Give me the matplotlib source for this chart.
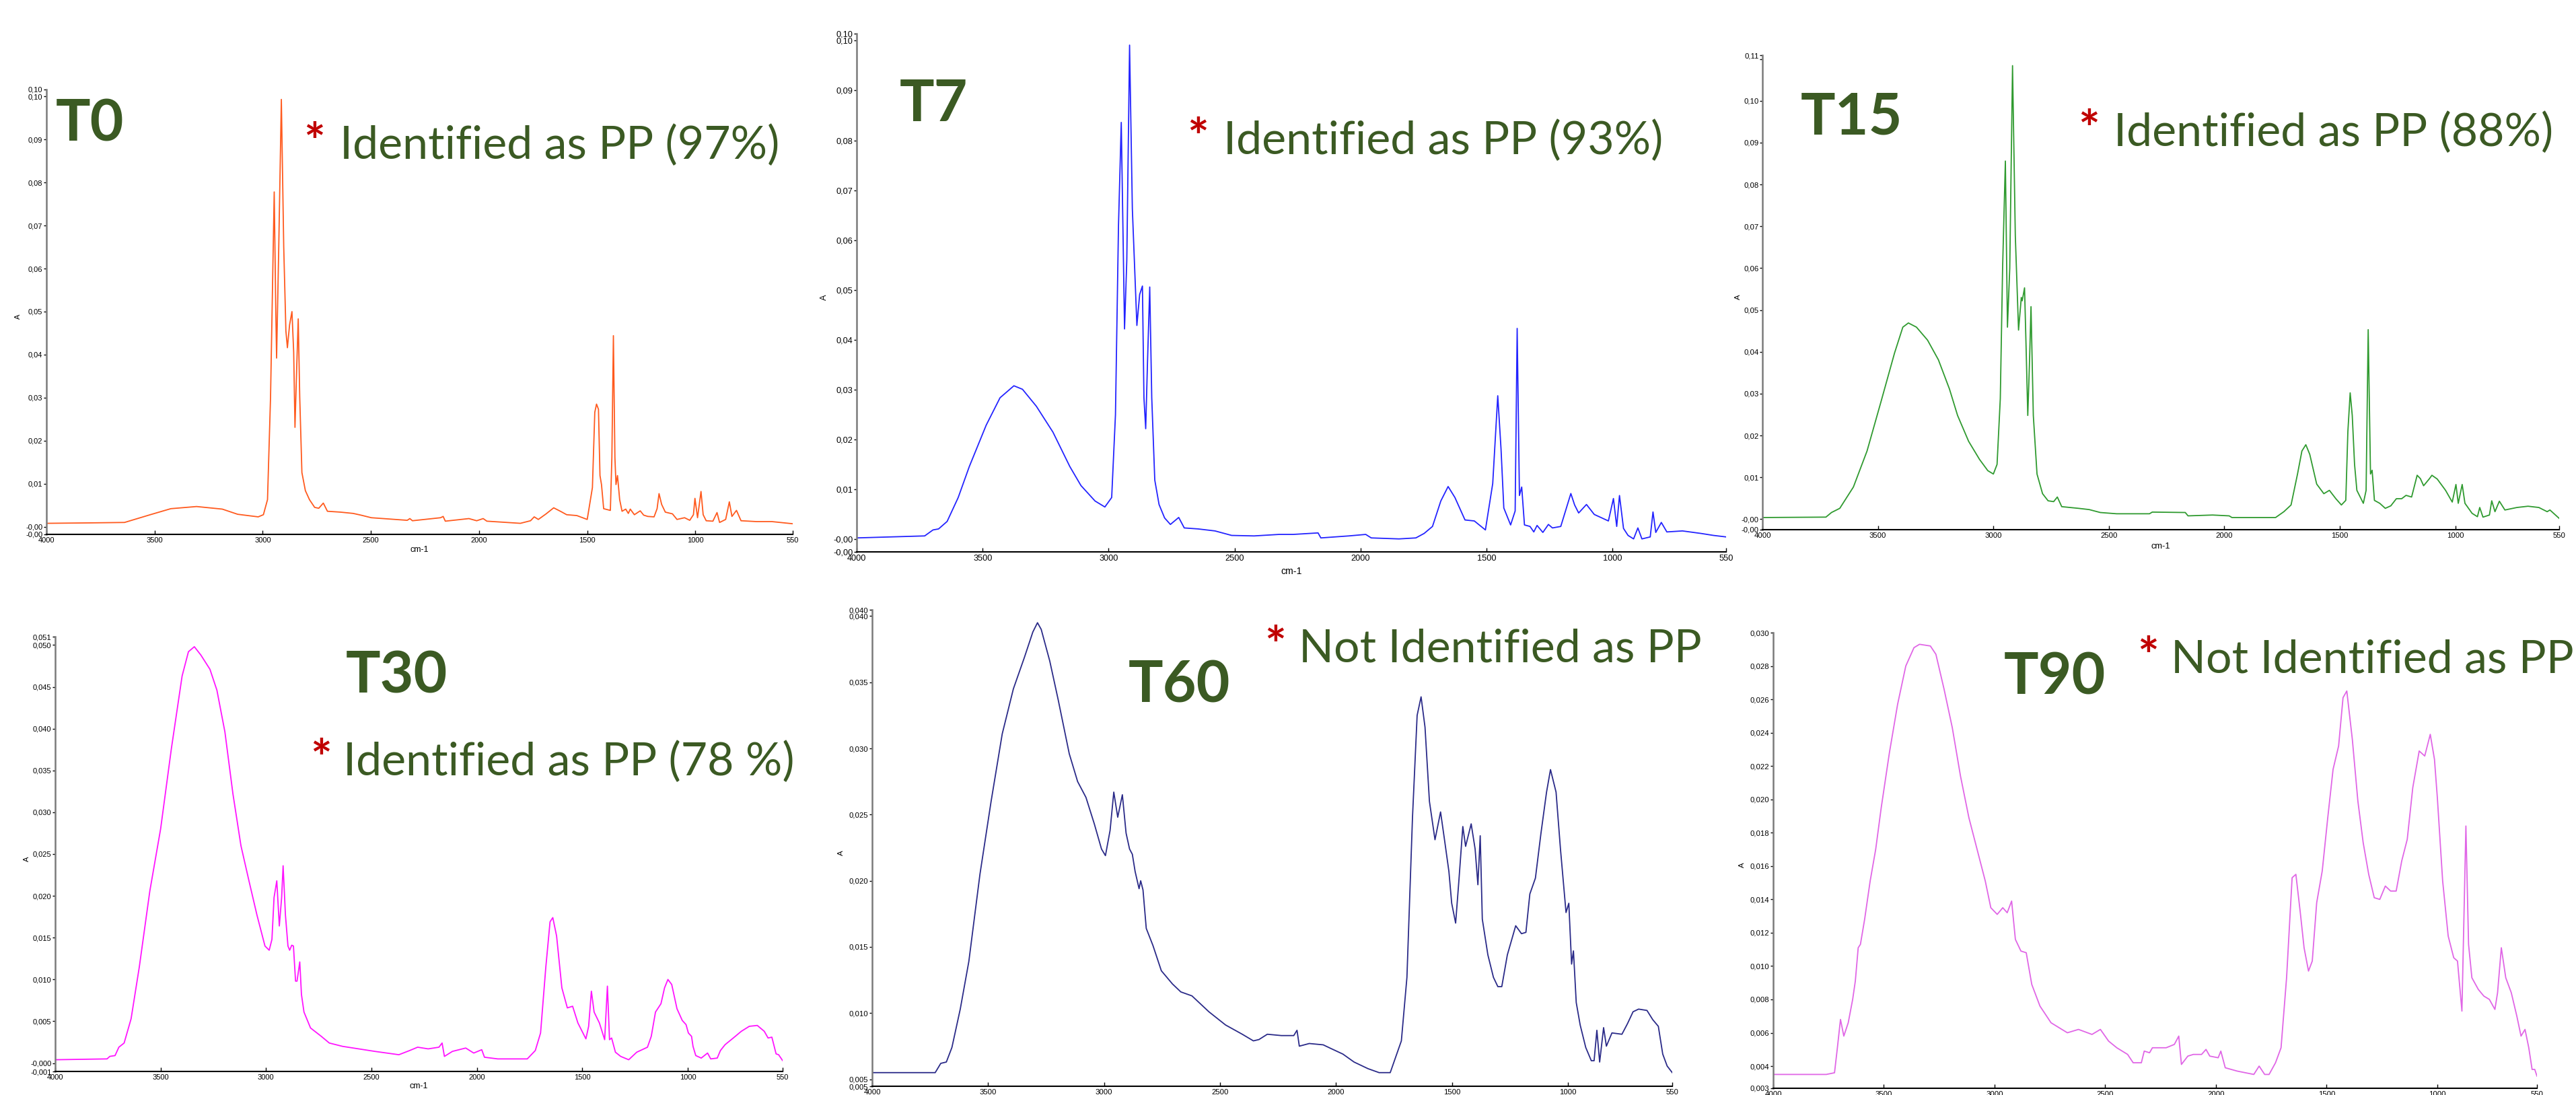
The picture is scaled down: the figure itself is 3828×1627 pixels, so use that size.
#!/usr/bin/env python3
# -*- coding: utf-8 -*-
"""FTIR spectra of the sample at T0 ... T90, six panels side by side."""

import matplotlib
matplotlib.use("Agg")
import matplotlib.pyplot as plt

W, H = 3828, 1627

# ---------------------------------------------------------------- data
# (wavenumber cm-1, absorbance)
t0_points = [
    (4000, 0.0008), (3800, 0.0009), (3639, 0.0010), (3520, 0.0028), (3425, 0.0042),
    (3306, 0.0047), (3187, 0.0041), (3116, 0.0029), (3021, 0.0023), (2997, 0.0028),
    (2978, 0.0063), (2964, 0.0301), (2954, 0.0580), (2947, 0.0778), (2940, 0.0510),
    (2936, 0.0392), (2926, 0.0650), (2914, 0.0993), (2903, 0.0650), (2893, 0.0455),
    (2886, 0.0416), (2876, 0.0469), (2865, 0.0500), (2857, 0.0406), (2851, 0.0231),
    (2843, 0.0370), (2836, 0.0483), (2829, 0.0301), (2819, 0.0126), (2803, 0.0084),
    (2784, 0.0063), (2760, 0.0045), (2741, 0.0043), (2720, 0.0055), (2701, 0.0036),
    (2641, 0.0034), (2582, 0.0031), (2546, 0.0027), (2498, 0.0021), (2332, 0.0015),
    (2320, 0.0019), (2308, 0.0014), (2178, 0.0021), (2166, 0.0024), (2156, 0.0013),
    (2047, 0.0019), (2011, 0.0014), (1981, 0.0019), (1964, 0.0013), (1809, 0.0008),
    (1762, 0.0014), (1745, 0.0023), (1726, 0.0017), (1690, 0.0030), (1655, 0.0044),
    (1624, 0.0036), (1595, 0.0028), (1548, 0.0026), (1500, 0.0017), (1476, 0.0091),
    (1465, 0.0266), (1457, 0.0285), (1448, 0.0273), (1441, 0.0119), (1434, 0.0098),
    (1424, 0.0042), (1393, 0.0038), (1386, 0.0161), (1379, 0.0444), (1372, 0.0161),
    (1367, 0.0098), (1360, 0.0119), (1350, 0.0063), (1339, 0.0036), (1322, 0.0041),
    (1310, 0.0031), (1301, 0.0041), (1282, 0.0028), (1255, 0.0037), (1239, 0.0027),
    (1220, 0.0024), (1191, 0.0023), (1177, 0.0042), (1168, 0.0077), (1156, 0.0052),
    (1139, 0.0034), (1106, 0.0030), (1085, 0.0017), (1050, 0.0021), (1026, 0.0015),
    (1009, 0.0028), (1002, 0.0066), (990, 0.0021), (974, 0.0082), (964, 0.0028),
    (950, 0.0014), (919, 0.0013), (900, 0.0033), (888, 0.0010), (860, 0.0017),
    (843, 0.0058), (831, 0.0024), (810, 0.0038), (789, 0.0014), (717, 0.0012),
    (646, 0.0012), (550, 0.0007),
]

t7_points = [
    (4000, 0.0003), (3730, 0.0007), (3697, 0.0019), (3675, 0.0021), (3641, 0.0036),
    (3597, 0.0084), (3553, 0.0146), (3486, 0.0229), (3431, 0.0284), (3376, 0.0308),
    (3342, 0.0301), (3287, 0.0267), (3221, 0.0215), (3154, 0.0146), (3110, 0.0108),
    (3054, 0.0077), (3015, 0.0065), (2988, 0.0084), (2973, 0.0250), (2961, 0.0629),
    (2950, 0.0836), (2937, 0.0422), (2928, 0.0560), (2917, 0.0991), (2906, 0.0663),
    (2888, 0.0429), (2877, 0.0491), (2866, 0.0508), (2860, 0.0284), (2853, 0.0222),
    (2846, 0.0353), (2837, 0.0506), (2829, 0.0284), (2817, 0.0119), (2800, 0.0070),
    (2778, 0.0043), (2755, 0.0030), (2722, 0.0044), (2700, 0.0023), (2645, 0.0021),
    (2578, 0.0017), (2512, 0.0008), (2423, 0.0007), (2324, 0.0010), (2268, 0.0010),
    (2169, 0.0013), (2158, 0.0003), (2047, 0.0007), (1980, 0.0010), (1958, 0.0003),
    (1848, 0.0001), (1781, 0.0003), (1748, 0.0012), (1715, 0.0026), (1682, 0.0077),
    (1653, 0.0106), (1626, 0.0084), (1586, 0.0039), (1549, 0.0037), (1505, 0.0019),
    (1476, 0.0112), (1456, 0.0288), (1443, 0.0181), (1432, 0.0063), (1405, 0.0029),
    (1387, 0.0057), (1379, 0.0423), (1370, 0.0088), (1361, 0.0105), (1350, 0.0029),
    (1328, 0.0026), (1313, 0.0015), (1300, 0.0028), (1277, 0.0014), (1255, 0.0030),
    (1239, 0.0023), (1206, 0.0026), (1166, 0.0092), (1151, 0.0069), (1135, 0.0053),
    (1104, 0.0070), (1073, 0.0050), (1047, 0.0044), (1017, 0.0037), (997, 0.0082),
    (984, 0.0026), (973, 0.0088), (957, 0.0022), (939, 0.0008), (917, 0.0001),
    (900, 0.0023), (884, 0.0001), (851, 0.0005), (840, 0.0055), (829, 0.0014),
    (807, 0.0034), (785, 0.0015), (723, 0.0017), (650, 0.0012), (600, 0.0008),
    (550, 0.0005),
]

t15_points = [
    (4000, 0.0004), (3725, 0.0005), (3701, 0.0016), (3665, 0.0026), (3606, 0.0077),
    (3547, 0.0163), (3487, 0.0280), (3428, 0.0397), (3392, 0.0459), (3368, 0.0469),
    (3333, 0.0459), (3285, 0.0428), (3238, 0.0381), (3190, 0.0311), (3155, 0.0248),
    (3107, 0.0186), (3060, 0.0143), (3024, 0.0116), (3000, 0.0108), (2984, 0.0131),
    (2970, 0.0288), (2960, 0.0600), (2948, 0.0856), (2939, 0.0459), (2929, 0.0600),
    (2917, 0.1084), (2905, 0.0678), (2891, 0.0452), (2879, 0.0530), (2875, 0.0522),
    (2865, 0.0553), (2858, 0.0405), (2851, 0.0248), (2844, 0.0366), (2837, 0.0508),
    (2827, 0.0248), (2811, 0.0108), (2787, 0.0061), (2763, 0.0044), (2739, 0.0042),
    (2723, 0.0053), (2704, 0.0030), (2632, 0.0026), (2585, 0.0023), (2537, 0.0016),
    (2466, 0.0013), (2324, 0.0013), (2312, 0.0017), (2169, 0.0016), (2157, 0.0008),
    (2051, 0.0010), (1979, 0.0008), (1967, 0.0004), (1778, 0.0004), (1742, 0.0018),
    (1711, 0.0034), (1683, 0.0108), (1664, 0.0163), (1647, 0.0178), (1630, 0.0155),
    (1600, 0.0084), (1569, 0.0061), (1545, 0.0069), (1517, 0.0049), (1493, 0.0034),
    (1474, 0.0045), (1465, 0.0209), (1455, 0.0302), (1446, 0.0248), (1436, 0.0131),
    (1426, 0.0069), (1398, 0.0038), (1386, 0.0069), (1377, 0.0453), (1367, 0.0108),
    (1360, 0.0117), (1350, 0.0045), (1327, 0.0038), (1303, 0.0026), (1279, 0.0032),
    (1255, 0.0049), (1232, 0.0049), (1213, 0.0057), (1189, 0.0053), (1165, 0.0105),
    (1151, 0.0097), (1137, 0.0080), (1113, 0.0096), (1101, 0.0105), (1078, 0.0096),
    (1042, 0.0069), (1013, 0.0041), (997, 0.0083), (987, 0.0038), (970, 0.0083),
    (958, 0.0038), (927, 0.0014), (904, 0.0006), (894, 0.0028), (880, 0.0005),
    (852, 0.0010), (842, 0.0044), (828, 0.0018), (809, 0.0043), (785, 0.0022),
    (733, 0.0028), (685, 0.0031), (638, 0.0028), (602, 0.0018), (590, 0.0022),
    (550, 0.0002),
]

t30_points = [
    (4000, 0.0004), (3754, 0.0005), (3741, 0.0008), (3716, 0.0009), (3698, 0.0019),
    (3673, 0.0024), (3640, 0.0053), (3601, 0.0115), (3551, 0.0206), (3500, 0.0280),
    (3449, 0.0376), (3398, 0.0463), (3368, 0.0492), (3340, 0.0498), (3309, 0.0488),
    (3266, 0.0471), (3233, 0.0446), (3195, 0.0396), (3157, 0.0322), (3119, 0.0260),
    (3081, 0.0218), (3043, 0.0177), (3005, 0.0140), (2985, 0.0135), (2972, 0.0148),
    (2962, 0.0198), (2949, 0.0218), (2937, 0.0164), (2926, 0.0198), (2919, 0.0236),
    (2908, 0.0177), (2896, 0.0140), (2888, 0.0135), (2878, 0.0141), (2870, 0.0140),
    (2860, 0.0098), (2853, 0.0098), (2840, 0.0121), (2832, 0.0082), (2820, 0.0061),
    (2789, 0.0042), (2738, 0.0032), (2700, 0.0024), (2637, 0.0020), (2484, 0.0014),
    (2370, 0.0010), (2319, 0.0015), (2281, 0.0019), (2231, 0.0017), (2180, 0.0019),
    (2165, 0.0024), (2154, 0.0008), (2116, 0.0014), (2053, 0.0018), (2015, 0.0012),
    (1977, 0.0016), (1964, 0.0007), (1901, 0.0005), (1761, 0.0005), (1723, 0.0015),
    (1698, 0.0036), (1673, 0.0115), (1653, 0.0169), (1640, 0.0174), (1622, 0.0152),
    (1597, 0.0090), (1571, 0.0066), (1546, 0.0068), (1521, 0.0048), (1483, 0.0029),
    (1470, 0.0044), (1457, 0.0086), (1444, 0.0061), (1419, 0.0048), (1394, 0.0028),
    (1381, 0.0092), (1371, 0.0028), (1361, 0.0030), (1343, 0.0013), (1318, 0.0008),
    (1280, 0.0004), (1242, 0.0013), (1191, 0.0019), (1173, 0.0032), (1153, 0.0061),
    (1127, 0.0071), (1110, 0.0090), (1094, 0.0100), (1076, 0.0094), (1051, 0.0065),
    (1026, 0.0051), (1008, 0.0046), (997, 0.0036), (982, 0.0032), (975, 0.0020),
    (962, 0.0009), (936, 0.0006), (906, 0.0012), (891, 0.0005), (860, 0.0006),
    (845, 0.0015), (823, 0.0022), (784, 0.0030), (746, 0.0038), (708, 0.0044),
    (670, 0.0045), (637, 0.0038), (619, 0.0030), (601, 0.0031), (581, 0.0011),
    (569, 0.0010), (550, 0.0003),
]

t60_points = [
    (4000, 0.0055), (3872, 0.0055), (3728, 0.0055), (3704, 0.0062), (3680, 0.0063),
    (3656, 0.0074), (3620, 0.0103), (3583, 0.0139), (3535, 0.0205), (3487, 0.0260),
    (3439, 0.0311), (3391, 0.0345), (3343, 0.0369), (3307, 0.0388), (3287, 0.0395),
    (3271, 0.0390), (3234, 0.0366), (3198, 0.0337), (3150, 0.0296), (3114, 0.0275),
    (3078, 0.0263), (3042, 0.0243), (3011, 0.0224), (2994, 0.0219), (2974, 0.0238),
    (2958, 0.0267), (2941, 0.0248), (2921, 0.0265), (2905, 0.0236), (2890, 0.0224),
    (2878, 0.0220), (2866, 0.0207), (2849, 0.0194), (2842, 0.0200), (2832, 0.0193),
    (2818, 0.0164), (2789, 0.0151), (2753, 0.0132), (2705, 0.0122), (2669, 0.0116),
    (2621, 0.0113), (2548, 0.0101), (2476, 0.0091), (2404, 0.0084), (2356, 0.0079),
    (2332, 0.0080), (2296, 0.0084), (2235, 0.0083), (2182, 0.0083), (2168, 0.0087),
    (2158, 0.0075), (2115, 0.0077), (2055, 0.0076), (2019, 0.0073), (1970, 0.0069),
    (1922, 0.0063), (1862, 0.0058), (1814, 0.0055), (1766, 0.0055), (1742, 0.0067),
    (1718, 0.0079), (1694, 0.0127), (1670, 0.0248), (1650, 0.0325), (1633, 0.0339),
    (1616, 0.0316), (1597, 0.0260), (1573, 0.0231), (1549, 0.0252), (1532, 0.0231),
    (1513, 0.0207), (1501, 0.0183), (1484, 0.0168), (1470, 0.0200), (1453, 0.0241),
    (1441, 0.0226), (1417, 0.0243), (1400, 0.0224), (1388, 0.0197), (1378, 0.0234),
    (1369, 0.0171), (1345, 0.0144), (1321, 0.0127), (1302, 0.0120), (1285, 0.0120),
    (1261, 0.0144), (1225, 0.0166), (1200, 0.0160), (1181, 0.0161), (1164, 0.0190),
    (1140, 0.0202), (1116, 0.0236), (1092, 0.0267), (1075, 0.0284), (1051, 0.0267),
    (1032, 0.0224), (1008, 0.0176), (996, 0.0183), (984, 0.0137), (976, 0.0147),
    (964, 0.0108), (947, 0.0091), (923, 0.0074), (899, 0.0064), (887, 0.0064),
    (875, 0.0087), (863, 0.0063), (846, 0.0089), (834, 0.0075), (810, 0.0085),
    (767, 0.0084), (743, 0.0092), (719, 0.0101), (695, 0.0103), (659, 0.0102),
    (634, 0.0095), (610, 0.0090), (591, 0.0069), (572, 0.0060), (550, 0.0055),
]

t90_points = [
    (4000, 0.0035), (3760, 0.0035), (3723, 0.0036), (3710, 0.0051), (3696, 0.0068),
    (3681, 0.0058), (3661, 0.0066), (3641, 0.0080), (3629, 0.0091), (3616, 0.0111),
    (3606, 0.0113), (3587, 0.0128), (3562, 0.0151), (3537, 0.0170), (3512, 0.0195),
    (3475, 0.0228), (3438, 0.0257), (3401, 0.0280), (3364, 0.0291), (3339, 0.0293),
    (3290, 0.0292), (3265, 0.0287), (3228, 0.0266), (3191, 0.0243), (3154, 0.0214),
    (3116, 0.0189), (3079, 0.0170), (3042, 0.0151), (3017, 0.0135), (2988, 0.0131),
    (2963, 0.0135), (2943, 0.0132), (2923, 0.0139), (2906, 0.0116), (2881, 0.0109),
    (2857, 0.0108), (2832, 0.0089), (2795, 0.0076), (2745, 0.0066), (2696, 0.0062),
    (2671, 0.0060), (2621, 0.0062), (2560, 0.0059), (2522, 0.0062), (2485, 0.0055),
    (2448, 0.0051), (2399, 0.0047), (2374, 0.0042), (2337, 0.0042), (2324, 0.0049),
    (2300, 0.0048), (2287, 0.0051), (2225, 0.0051), (2188, 0.0053), (2168, 0.0058),
    (2156, 0.0041), (2127, 0.0046), (2102, 0.0047), (2065, 0.0047), (2045, 0.0050),
    (2028, 0.0046), (1990, 0.0045), (1978, 0.0049), (1958, 0.0039), (1904, 0.0037),
    (1829, 0.0035), (1805, 0.0040), (1780, 0.0035), (1760, 0.0035), (1731, 0.0042),
    (1706, 0.0051), (1681, 0.0093), (1656, 0.0153), (1639, 0.0155), (1619, 0.0132),
    (1602, 0.0111), (1582, 0.0097), (1565, 0.0103), (1545, 0.0138), (1520, 0.0157),
    (1495, 0.0189), (1471, 0.0218), (1446, 0.0232), (1426, 0.0261), (1409, 0.0265),
    (1384, 0.0236), (1359, 0.0199), (1335, 0.0174), (1310, 0.0155), (1285, 0.0141),
    (1260, 0.0140), (1235, 0.0148), (1211, 0.0145), (1186, 0.0145), (1161, 0.0163),
    (1136, 0.0176), (1111, 0.0207), (1082, 0.0229), (1057, 0.0226), (1032, 0.0239),
    (1013, 0.0224), (1000, 0.0201), (976, 0.0151), (951, 0.0118), (926, 0.0105),
    (909, 0.0103), (889, 0.0073), (871, 0.0184), (859, 0.0113), (844, 0.0093),
    (815, 0.0086), (790, 0.0082), (765, 0.0080), (740, 0.0074), (728, 0.0084),
    (711, 0.0111), (691, 0.0093), (666, 0.0084), (641, 0.0070), (622, 0.0058),
    (604, 0.0062), (587, 0.0051), (572, 0.0038), (560, 0.0038), (550, 0.0034),
]

x_ticks = [4000, 3500, 3000, 2500, 2000, 1500, 1000, 550]
x_tick_labels = ["4000", "3500", "3000", "2500", "2000", "1500", "1000", "550"]

# y ticks include the axis limits, which the software labels as well
t0_yticks = [-0.00177, 0.0, 0.01, 0.02, 0.03, 0.04, 0.05, 0.06, 0.07, 0.08, 0.09, 0.10, 0.1016]
t0_ylabels = ["-0,00", "-0,00", "0,01", "0,02", "0,03", "0,04", "0,05", "0,06", "0,07",
              "0,08", "0,09", "0,10", "0,10"]
t7_yticks = [-0.0025, 0.0, 0.01, 0.02, 0.03, 0.04, 0.05, 0.06, 0.07, 0.08, 0.09, 0.10, 0.1014]
t7_ylabels = ["-0,00", "-0,00", "0,01", "0,02", "0,03", "0,04", "0,05", "0,06", "0,07",
              "0,08", "0,09", "0,10", "0,10"]
t15_yticks = [-0.0025, 0.0, 0.01, 0.02, 0.03, 0.04, 0.05, 0.06, 0.07, 0.08, 0.09, 0.10, 0.11, 0.1109]
t15_ylabels = ["-0,00", "-0,00", "0,01", "0,02", "0,03", "0,04", "0,05", "0,06", "0,07",
               "0,08", "0,09", "0,10", "", "0,11"]
t30_yticks = [-0.001, 0.0, 0.005, 0.010, 0.015, 0.020, 0.025, 0.030, 0.035, 0.040, 0.045, 0.050, 0.051]
t30_ylabels = ["-0,001", "-0,000", "0,005", "0,010", "0,015", "0,020", "0,025", "0,030",
               "0,035", "0,040", "0,045", "0,050", "0,051"]
t60_yticks = [0.00447, 0.005, 0.010, 0.015, 0.020, 0.025, 0.030, 0.035, 0.040, 0.04048]
t60_ylabels = ["0,005", "0,005", "0,010", "0,015", "0,020", "0,025", "0,030", "0,035",
               "0,040", "0,040"]
t90_yticks = [0.00267, 0.004, 0.006, 0.008, 0.010, 0.012, 0.014, 0.016, 0.018, 0.020,
              0.022, 0.024, 0.026, 0.028, 0.030]
t90_ylabels = ["0,003", "0,004", "0,006", "0,008", "0,010", "0,012", "0,014", "0,016",
               "0,018", "0,020", "0,022", "0,024", "0,026", "0,028", "0,030"]

titles = ["T0", "T7", "T15", "T30", "T60", "T90"]
notes = ["Identified as PP (97%)", "Identified as PP (93%)", "Identified as PP (88%)",
         "Identified as PP (78 %)", "Not Identified as PP", "Not Identified as PP"]

# ---------------------------------------------------------------- layout
# axes box in pixels: left, top, right, bottom
# xl_dy is None where the "cm-1" title falls below the picture edge
panels = [
    dict(pts=t0_points, yt=t0_yticks, yl=t0_ylabels, color="#ff5a1e",
         box=(69, 133, 1178, 794), fs=8.0, a_dx=42, xl_dy=23,
         title_xy=(83, 209), star_x=451, note_xy=(505, 236)),
    dict(pts=t7_points, yt=t7_yticks, yl=t7_ylabels, color="#2323ff",
         box=(1273, 50, 2565, 820), fs=9.2, a_dx=48, xl_dy=29,
         title_xy=(1337, 180), star_x=1764, note_xy=(1818, 229)),
    dict(pts=t15_points, yt=t15_yticks, yl=t15_ylabels, color="#2f9a2f",
         box=(2619, 82, 3803, 787), fs=8.2, a_dx=36, xl_dy=25,
         title_xy=(2676, 199), star_x=3088, note_xy=(3141, 217)),
    dict(pts=t30_points, yt=t30_yticks, yl=t30_ylabels, color="#ff14ff",
         box=(82, 946, 1163, 1592), fs=8.0, a_dx=42, xl_dy=22,
         title_xy=(514, 1030), star_x=461, note_xy=(510, 1152)),
    dict(pts=t60_points, yt=t60_yticks, yl=t60_ylabels, color="#2a2a88",
         box=(1296, 906, 2485, 1614), fs=8.2, a_dx=46, xl_dy=None,
         title_xy=(1677, 1043), star_x=1879, note_xy=(1930, 984)),
    dict(pts=t90_points, yt=t90_yticks, yl=t90_ylabels, color="#e066e6",
         box=(2635, 940, 3770, 1617), fs=8.2, a_dx=46, xl_dy=None,
         title_xy=(2978, 1031), star_x=3176, note_xy=(3226, 1000)),
]

GREEN = "#3b5a23"
RED = "#c00000"
TXT_FONT = ["Lato", "DejaVu Sans"]
AX_FONT = ["Liberation Sans", "DejaVu Sans"]

fig = plt.figure(figsize=(W / 100, H / 100), dpi=100)
fig.patch.set_facecolor("white")

for p, title, note in zip(panels, titles, notes):
    l, t, r, b = p["box"]
    ax = fig.add_axes([l / W, 1 - b / H, (r - l) / W, (b - t) / H])
    wn = [q[0] for q in p["pts"]]
    ab = [q[1] for q in p["pts"]]
    ax.plot(wn, ab, color=p["color"], lw=1.3)
    ax.set_xlim(4000, 550)
    ax.set_ylim(p["yt"][0], p["yt"][-1])
    ax.set_xticks(x_ticks)
    ax.set_xticklabels(x_tick_labels, family=AX_FONT, fontsize=p["fs"])
    ax.set_yticks(p["yt"])
    ax.set_yticklabels(p["yl"], family=AX_FONT, fontsize=p["fs"])
    ax.tick_params(axis="y", direction="out", length=3, width=1, pad=1)
    ax.tick_params(axis="x", direction="in", length=4, width=1, pad=3)
    for s in ("top", "right"):
        ax.spines[s].set_visible(False)
    ax.spines["left"].set_color("#7a7a7a")
    ax.spines["left"].set_linewidth(1.8)
    ax.spines["bottom"].set_color("black")
    ax.spines["bottom"].set_linewidth(1.5)
    ax.set_facecolor("none")

    # axis titles
    fig.text((l - p["a_dx"]) / W, 1 - ((t + b) / 2 + 7) / H, "A", rotation=90,
             ha="center", va="center", family=AX_FONT, fontsize=p["fs"])
    if p["xl_dy"] is not None:
        fig.text((l + r) / 2 / W, 1 - (b + p["xl_dy"]) / H, "cm-1",
                 ha="center", va="center", family=AX_FONT, fontsize=p["fs"] + 1)

    # panel annotations
    tx, ty = p["title_xy"]
    fig.text(tx / W, 1 - ty / H, title, ha="left", va="baseline",
             family=TXT_FONT, fontweight="bold", fontsize=62, color=GREEN)
    nx, ny = p["note_xy"]
    fig.text(p["star_x"] / W, 1 - ny / H, "*", ha="left", va="baseline",
             family=TXT_FONT, fontweight="bold", fontsize=54, color=RED)
    fig.text(nx / W, 1 - ny / H, note, ha="left", va="baseline",
             family=TXT_FONT, fontsize=49, color=GREEN)

fig.savefig("out.png", dpi=100, facecolor="white")
